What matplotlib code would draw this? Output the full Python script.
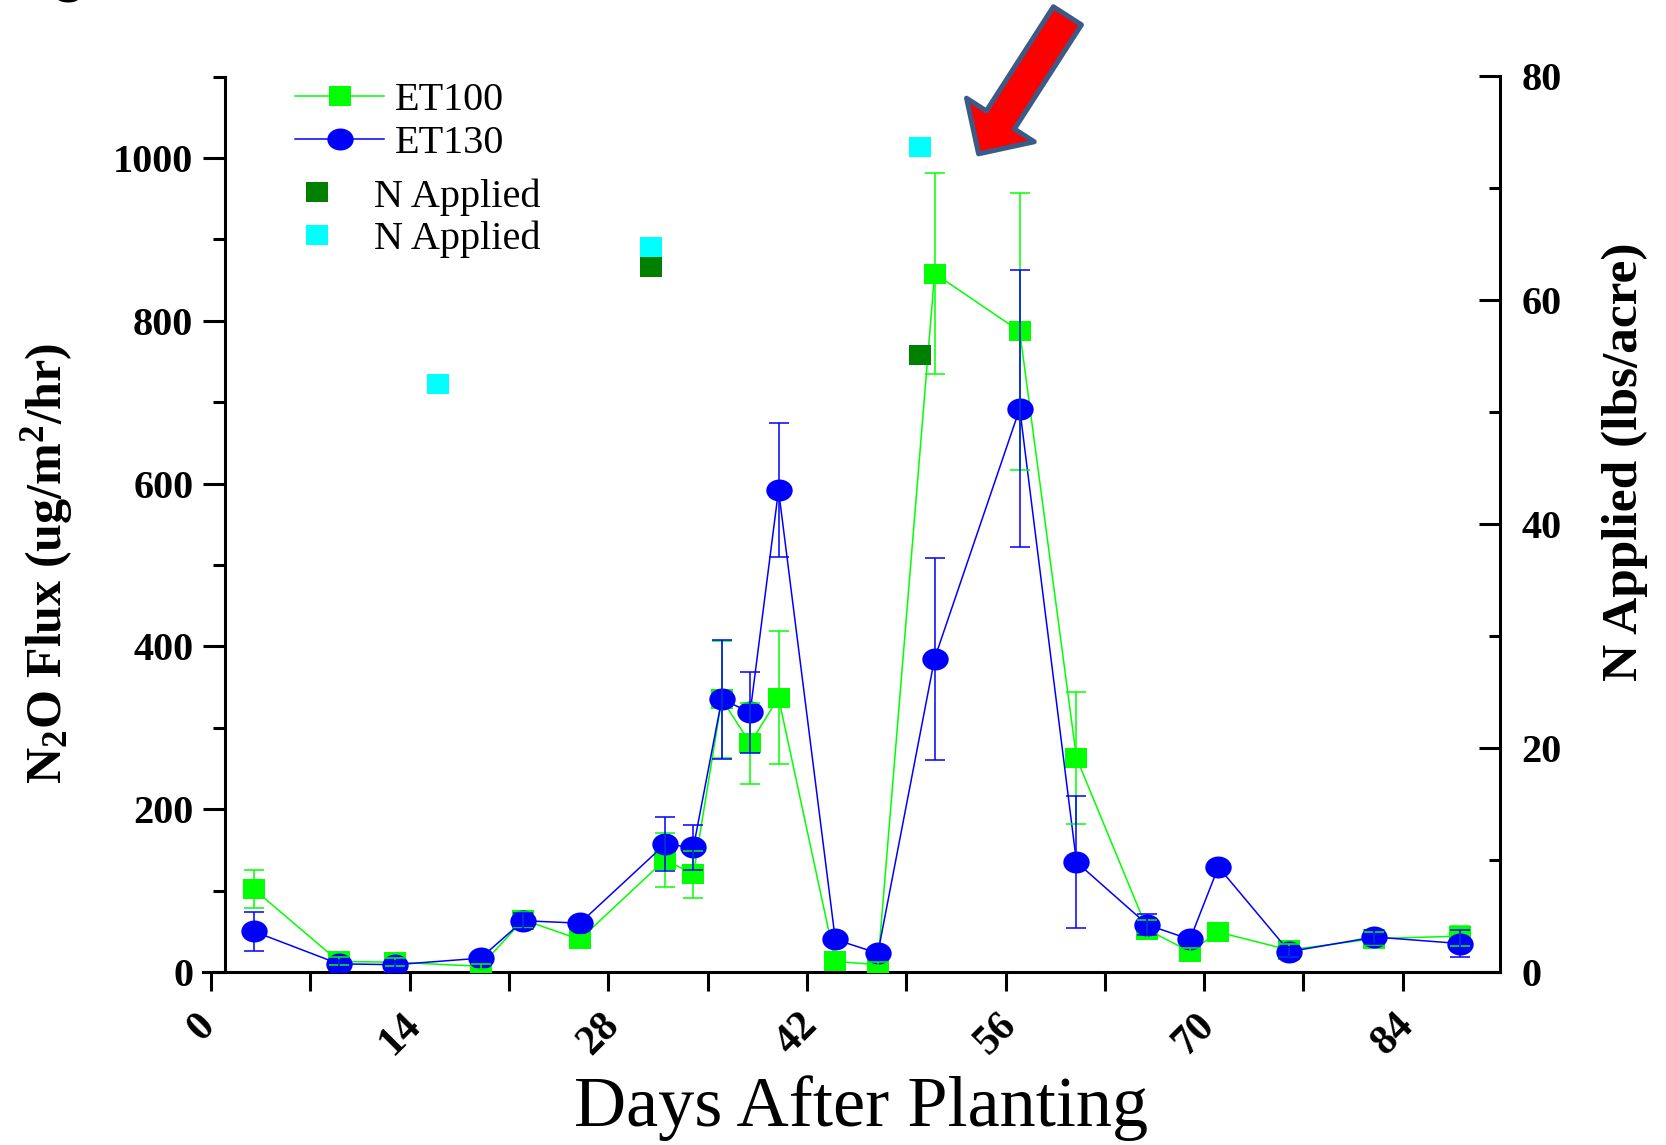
import numpy as np
import matplotlib
matplotlib.use('Agg')
from matplotlib import pyplot as plt
from matplotlib.path import Path
from matplotlib.transforms import Affine2D, ScaledTranslation

plt.rcParams['font.family'] = 'Liberation Serif'
plt.rcParams['mathtext.fontset'] = 'custom'
plt.rcParams['mathtext.rm'] = 'Liberation Serif'
plt.rcParams['mathtext.bf'] = 'Liberation Serif:bold'
plt.rcParams['mathtext.default'] = 'bf'

# N2O flux (ug/m2/hr) by days after planting
days = [3, 9, 13, 19, 22, 26, 32, 34, 36, 38, 40, 44, 47, 51, 57, 61, 66, 69, 71, 76, 82, 88]
et100 = [102, 13, 12, 7, 64, 40, 138, 120, 335, 281, 337, 13, 9, 858, 787, 263, 52, 25, 49, 27, 41, 44]
et100_err = [23, 5, 5, 3, 10, 5, 33, 29, 72, 50, 82, 3, 3, 124, 170, 81, 12, 5, 4, 8, 8, 12]
et130 = [50, 10, 9, 17, 63, 60, 157, 153, 335, 319, 592, 40, 23, 385, 692, 135, 58, 40, 129, 25, 43, 35]
et130_err = [24, 5, 4, 5, 10, 5, 33, 28, 73, 50, 82, 5, 5, 124, 170, 81, 13, 5, 4, 6, 8, 17]

# N applied (lbs/acre), right axis
n_days_dark = [31, 50]
n_applied_dark = [63.0, 55.1]
n_days_cyan = [16, 31, 50]
n_applied_cyan = [52.5, 64.8, 73.7]

x_ticks = [0, 14, 28, 42, 56, 70, 84]
x_labels = ['0', '14', '28', '42', '56', '70', '84']
y_ticks = [0, 200, 400, 600, 800, 1000]
y_labels = ['0', '200', '400', '600', '800', '1000']
y2_ticks = [0, 20, 40, 60, 80]
y2_labels = ['0', '20', '40', '60', '80']

# slightly wide markers, like the original export
rect = Path([(-0.6, -0.5), (0.6, -0.5), (0.6, 0.5), (-0.6, 0.5), (-0.6, -0.5)], closed=True)
ellipse = Path.unit_circle().transformed(Affine2D().scale(1.2, 1.0))

W, H = 1666, 1145
fig = plt.figure(figsize=(W / 100, H / 100), dpi=100)
ax = fig.add_axes([202.5 / W, (H - 972) / H, 1297.5 / W, 895.5 / H])

green = '#00FF00'
blue = '#0000FF'

ax.errorbar(days, et100, yerr=et100_err, fmt='none', ecolor=green, elinewidth=1.1,
            capsize=7.5, capthick=1.1, zorder=5)
l100, = ax.plot(days, et100, color=green, lw=1.1, marker=rect, ms=16.5, mew=0,
                zorder=3, label='ET100')
ax.errorbar(days, et130, yerr=et130_err, fmt='none', ecolor=blue, elinewidth=1.1,
            capsize=7.5, capthick=1.1, zorder=5)
l130, = ax.plot(days, et130, color=blue, lw=1.1, marker=ellipse, ms=19, mew=0,
                zorder=4, label='ET130')

ax.set_xlim(-0.6, 90.85)
ax.set_ylim(0, 1100)

ax.spines['top'].set_visible(False)
ax.spines['right'].set_visible(False)
ax.spines['left'].set_position(('data', 1.0))
for s in ['left', 'bottom']:
    ax.spines[s].set_linewidth(2.2)

ax.set_xticks(x_ticks, labels=x_labels, rotation=45, fontweight='bold')
ax.set_xticks([7, 21, 35, 49, 63, 77], minor=True)
ax.set_yticks(y_ticks, labels=y_labels, fontweight='bold')
ax.set_yticks([100, 300, 500, 700, 900, 1100], minor=True)
ax.tick_params(axis='x', which='both', direction='out', length=13.7, width=2.2,
               pad=11, labelsize=30)
ax.tick_params(axis='y', which='major', direction='out', length=16, width=2.2,
               pad=7, labelsize=29)
ax.tick_params(axis='y', which='minor', direction='out', length=8.6, width=2.2)
# rotated day labels sit a little left of their ticks
shift = ScaledTranslation(-7 / 72, 0, fig.dpi_scale_trans)
for lab in ax.get_xticklabels():
    lab.set_transform(lab.get_transform() + shift)

ax.set_ylabel(r'N$_2$O Flux (ug/m$^2$/hr)', fontsize=36, fontweight='bold')
ax.yaxis.set_label_coords(-0.098, 0.4556)
ax.set_xlabel('Days After Planting', fontsize=52)
ax.xaxis.set_label_coords(0.5075, -0.115)

ax2 = ax.twinx()
lcy, = ax2.plot(n_days_cyan, n_applied_cyan, ls='none', marker=rect, ms=16.5, mew=0,
                color='#00FFFF', label='N Applied')
ldk, = ax2.plot(n_days_dark, n_applied_dark, ls='none', marker=rect, ms=16.5, mew=0,
                color='#008000', label='N Applied')
ax2.set_ylim(0, 80)
for s in ['top', 'left', 'bottom']:
    ax2.spines[s].set_visible(False)
ax2.spines['right'].set_linewidth(2.2)
ax2.set_yticks(y2_ticks, labels=y2_labels, fontweight='bold')
ax2.set_yticks([10, 30, 50, 70], minor=True)
ax2.tick_params(axis='y', which='major', direction='in', length=15, width=2.2,
                pad=15.5, labelsize=29)
ax2.tick_params(axis='y', which='minor', direction='in', length=8, width=2.2)
ax2.set_ylabel('N Applied (lbs/acre)', fontsize=37, fontweight='bold')
ax2.yaxis.set_label_coords(1.0786, 0.5695)

leg1 = ax2.legend(handles=[l100, l130], loc='upper left',
                  bbox_to_anchor=(295.4 / W, 1 - 82 / H), bbox_transform=fig.transFigure,
                  frameon=False, fontsize=29, handlelength=2.21, handletextpad=0.26,
                  labelspacing=0.13, borderpad=0, borderaxespad=0)
ax2.add_artist(leg1)
ax2.legend(handles=[ldk, lcy], loc='upper left',
           bbox_to_anchor=(296.5 / W, 1 - 178 / H), bbox_transform=fig.transFigure,
           frameon=False, fontsize=29, handlelength=1.0, handletextpad=0.92,
           labelspacing=0.13, borderpad=0, borderaxespad=0)

# red call-out arrow pointing at the ET100 peak
ax2.annotate('', xy=(54.1, 1005 * 80 / 1100), xytext=(60.36, 1174.6 * 80 / 1100),
             annotation_clip=False,
             arrowprops=dict(arrowstyle='simple,head_length=29,head_width=58,tail_width=24',
                             mutation_scale=1, fc='#FF0000', ec='#3B5A85', lw=3.6,
                             shrinkA=0, shrinkB=0))

# cut-off panel letter at the top edge, as in the source image
fig.text(65 / W, 1 - 2 / H, 'c', fontsize=48, fontweight='bold', ha='center', va='baseline')

fig.savefig('out.png', dpi=100)
